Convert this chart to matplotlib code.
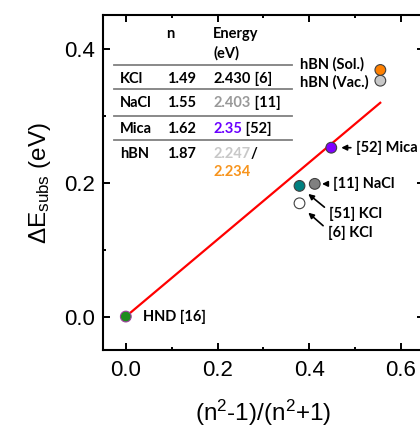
import matplotlib
matplotlib.use("Agg")
import matplotlib.pyplot as plt
from matplotlib.ticker import MultipleLocator

# refractive indices and substrate energy shifts
substrates = ["HND", "KCl [6]", "KCl [51]", "NaCl", "Mica", "hBN (Vac.)", "hBN (Sol.)"]
n_index = [1.0, 1.49, 1.49, 1.55, 1.62, 1.87, 1.87]
dE_subs = [0.0, 0.169, 0.195, 0.198, 0.252, 0.352, 0.368]
point_colors = ["#1e8c1e", "#ffffff", "#008080", "#808080", "#7f00ff", "#c8c8c8", "#ff8000"]
edge_colors = ["#a040a0", "#404040", "#404040", "#404040", "#404040", "#404040", "#404040"]

# linear fit line
fit_x = [0.0, 0.555]
fit_y = [0.0, 0.319]

# table content
table_rows = ["KCl", "NaCl", "Mica", "hBN"]
table_n = ["1.49", "1.55", "1.62", "1.87"]
table_energy = [
    [("2.430", "k"), (" [6]", "k")],
    [("2.403", "#999999"), (" [11]", "k")],
    [("2.35", "#6a00ff"), (" [52]", "k")],
    [("2.247", "#c8c8c8"), ("/", "k")],
]

plt.rcParams["font.family"] = ["Liberation Sans", "DejaVu Sans"]
plt.rcParams["mathtext.fontset"] = "custom"
plt.rcParams["mathtext.rm"] = "Liberation Sans"
plt.rcParams["mathtext.it"] = "Liberation Sans:italic"

fig = plt.figure(figsize=(4.2, 4.29), dpi=100)
ax = fig.add_axes([0.245, 0.184, 0.764, 0.781])

x_vals = [(n ** 2 - 1) / (n ** 2 + 1) for n in n_index]

ax.plot(fit_x, fit_y, color="red", lw=1.6, zorder=2)
ax.scatter(x_vals, dE_subs, s=60, c=point_colors, edgecolors=edge_colors,
           linewidths=0.8, zorder=3)

ax.set_xlim(-0.05, 0.65)
ax.set_ylim(-0.05, 0.45)
ax.xaxis.set_major_locator(MultipleLocator(0.2))
ax.xaxis.set_minor_locator(MultipleLocator(0.1))
ax.yaxis.set_major_locator(MultipleLocator(0.2))
ax.yaxis.set_minor_locator(MultipleLocator(0.1))
ax.tick_params(which="both", direction="in", top=True, right=True, width=1.4)
ax.tick_params(which="major", length=5, labelsize=16)
ax.tick_params(axis="x", which="major", pad=7)
ax.tick_params(axis="y", which="major", pad=6)
ax.tick_params(which="minor", length=2.5)
for sp in ax.spines.values():
    sp.set_linewidth(1.5)

ax.set_xlabel(r"(n$^{\mathregular{2}}$-1)/(n$^{\mathregular{2}}$+1)", fontsize=17.5, labelpad=12)
ax.set_ylabel(r"$\mathregular{\Delta E_{subs}}$ (eV)", fontsize=17.5, labelpad=8)

# table in the upper left
tf = dict(family=["Lato", "DejaVu Sans"], fontweight="bold", fontsize=10.5, va="center")
x_row, x_n, x_e = -0.013, 0.089, 0.191
ax.text(x_n, 0.422, "n", **tf)
ax.text(x_e, 0.422, "Energy", **tf)
ax.text(x_e, 0.393, "(eV)", **tf)
line_y = [0.376, 0.339, 0.300, 0.263]
row_y = [0.355, 0.318, 0.280, 0.243]
for ly in line_y:
    ax.plot([-0.026, 0.363], [ly, ly], color="#808080", lw=1.3, clip_on=False, zorder=1)
for name, nv, parts, ry in zip(table_rows, table_n, table_energy, row_y):
    ax.text(x_row, ry, name, **tf)
    ax.text(x_n, ry, nv, **tf)
    prev = ax.text(x_e, ry, parts[0][0], color=parts[0][1], **tf)
    for s, c in parts[1:]:
        prev = ax.annotate(s, xy=(1, 0), xycoords=prev, ha="left", va="bottom",
                           color=c, family=tf["family"], fontweight="bold",
                           fontsize=tf["fontsize"])
ax.text(x_e, 0.215, "2.234", color="#f7941d", **tf)

# point labels
af = dict(family=["Lato", "DejaVu Sans"], fontweight="bold", fontsize=10.5)
arrow = dict(arrowstyle="-|>", color="k", lw=1.2, mutation_scale=8, shrinkA=2, shrinkB=0)
ax.text(0.037, 0.0, "HND [16]", va="center", ha="left", **af)
ax.text(0.380, 0.377, "hBN (Sol.)", va="center", ha="left", **af)
ax.text(0.380, 0.349, "hBN (Vac.)", va="center", ha="left", **af)
ax.annotate("[52] Mica", xy=(0.470, 0.252), xytext=(0.503, 0.252), va="center",
            ha="left", arrowprops=arrow, **af)
ax.annotate("[11] NaCl", xy=(0.428, 0.198), xytext=(0.452, 0.198), va="center",
            ha="left", arrowprops=arrow, **af)
ax.annotate("[51] KCl", xy=(0.398, 0.183), xytext=(0.444, 0.153), va="center",
            ha="left", arrowprops=dict(arrow, relpos=(0, 0.7)), **af)
ax.annotate("[6] KCl", xy=(0.398, 0.155), xytext=(0.441, 0.125), va="center",
            ha="left", arrowprops=dict(arrow, relpos=(0, 0.7)), **af)

fig.savefig("out.png", dpi=100)
